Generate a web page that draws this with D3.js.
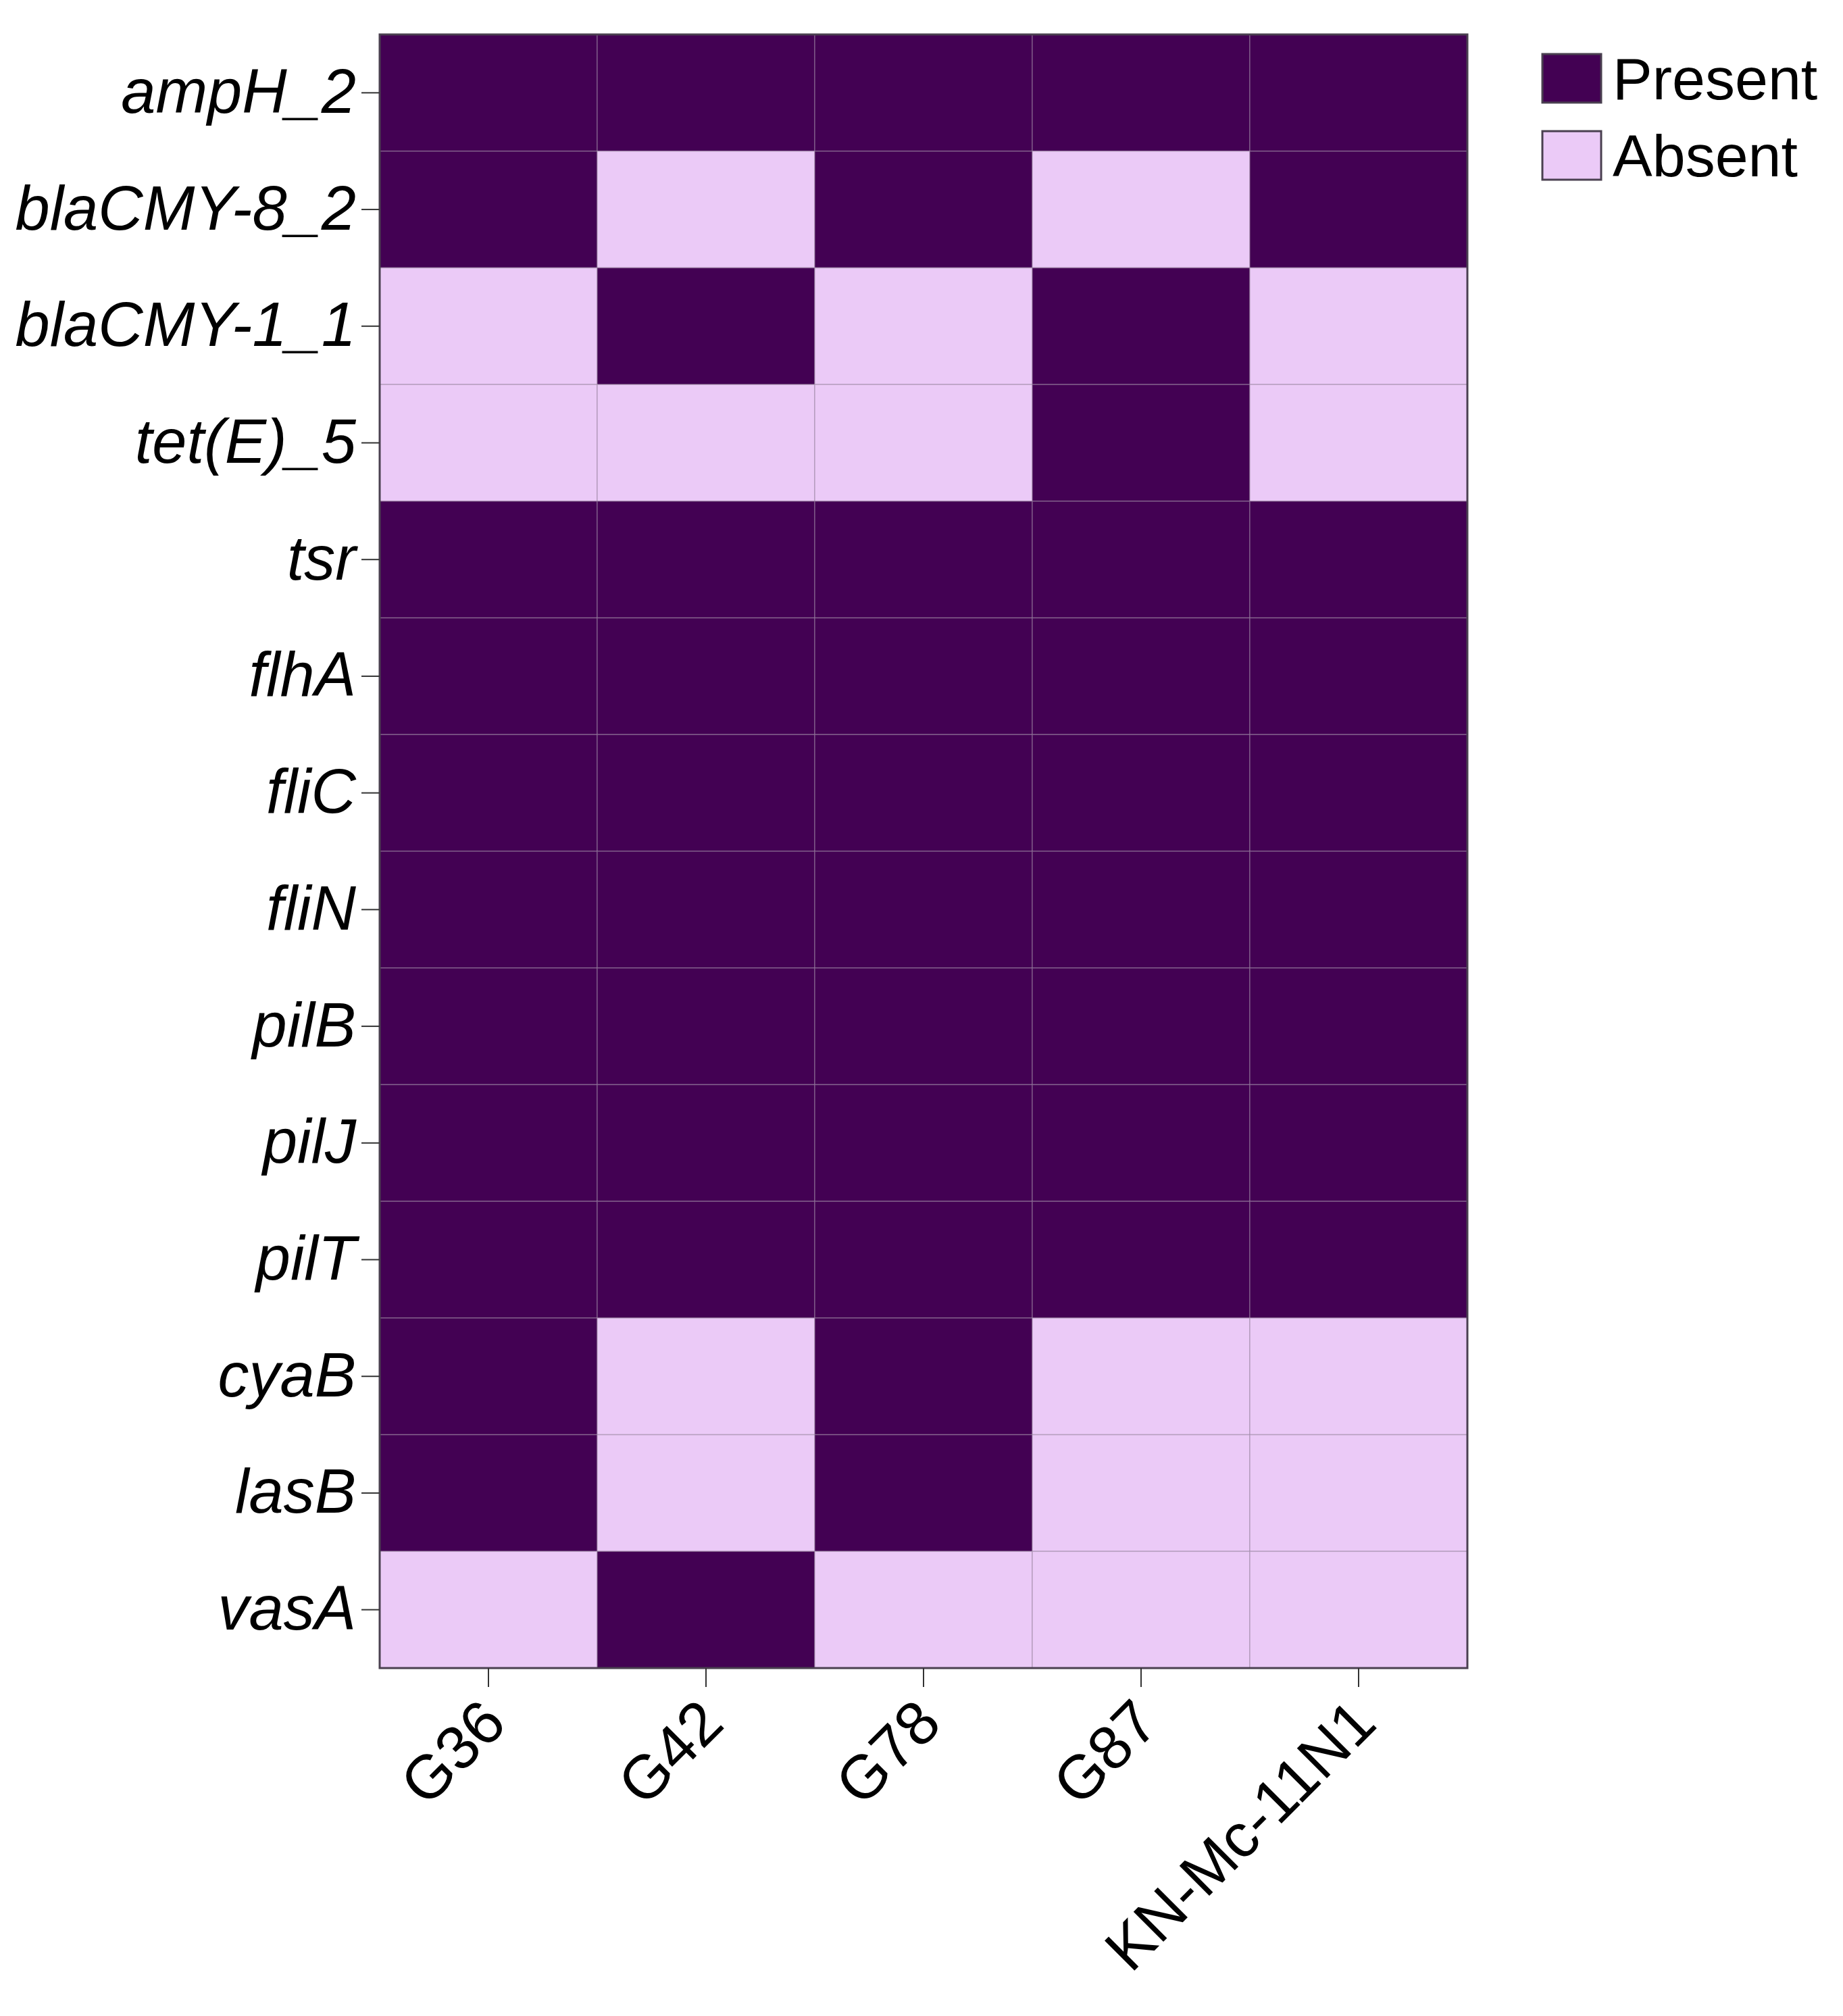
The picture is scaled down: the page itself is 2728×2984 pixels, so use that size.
<!DOCTYPE html>
<html><head><meta charset="utf-8">
<script src="https://cdn.jsdelivr.net/npm/d3@7"></script>
<style>html,body{margin:0;padding:0;background:#fff;}svg{display:block;font-family:"Liberation Sans",Arial,sans-serif;}</style>
</head><body>
<script>
const genes = ["ampH_2","blaCMY-8_2","blaCMY-1_1","tet(E)_5","tsr","flhA","fliC","fliN","pilB","pilJ","pilT","cyaB","lasB","vasA"];
const strains = ["G36","G42","G78","G87","KN-Mc-11N1"];
// 1 = Present, 0 = Absent ; one row per gene, columns in strain order
const presence = [
  [1,1,1,1,1],
  [1,0,1,0,1],
  [0,1,0,1,0],
  [0,0,0,1,0],
  [1,1,1,1,1],
  [1,1,1,1,1],
  [1,1,1,1,1],
  [1,1,1,1,1],
  [1,1,1,1,1],
  [1,1,1,1,1],
  [1,1,1,1,1],
  [1,0,1,0,0],
  [1,0,1,0,0],
  [0,1,0,0,0]
];
const legendLabels = ["Present","Absent"];
const legendValues = [1,0];

const W = 2728, H = 2984;
const m = {left:562, right:2172, top:51, bottom:2469};
const svg = d3.select("body").append("svg").attr("width",W).attr("height",H);

const x = d3.scaleBand().domain(strains).range([m.left,m.right]);
const y = d3.scaleBand().domain(genes).range([m.top,m.bottom]);
const color = d3.scaleOrdinal().domain([1,0]).range(["#430153","#ebcaf7"]);

const cells = [];
genes.forEach((g,i)=>strains.forEach((s,j)=>cells.push({g,s,v:presence[i][j]})));

svg.append("g").selectAll("rect").data(cells).join("rect")
  .attr("x",d=>x(d.s)).attr("y",d=>y(d.g))
  .attr("width",x.bandwidth()).attr("height",y.bandwidth())
  .attr("fill",d=>color(d.v))
  .attr("stroke","#9a86a3").attr("stroke-opacity",0.55).attr("stroke-width",1.5);

svg.append("rect").attr("x",m.left).attr("y",m.top)
  .attr("width",m.right-m.left).attr("height",m.bottom-m.top)
  .attr("fill","none").attr("stroke","#4a4050").attr("stroke-width",3);

// y axis
const yAxis = svg.append("g").attr("transform",`translate(${m.left},0)`)
  .call(d3.axisLeft(y).tickSize(27).tickPadding(8));
yAxis.select(".domain").remove();
yAxis.selectAll(".tick line").attr("stroke","#333").attr("stroke-width",2);
yAxis.selectAll(".tick text").attr("font-size",92).attr("font-style","italic")
  .attr("fill","#000").attr("font-family","'Liberation Sans',Arial,sans-serif");

// x axis
const xAxis = svg.append("g").attr("transform",`translate(0,${m.bottom})`)
  .call(d3.axisBottom(x).tickSize(28).tickPadding(8));
xAxis.select(".domain").remove();
xAxis.selectAll(".tick line").attr("stroke","#333").attr("stroke-width",2);
xAxis.selectAll(".tick text").attr("font-size",91).attr("fill","#000")
  .attr("font-family","'Liberation Sans',Arial,sans-serif")
  .attr("text-anchor","end").attr("dy",null).attr("y",null)
  .attr("transform","translate(30,86) rotate(-45)");

// legend
const lg = svg.append("g");
const ly = d3.scaleBand().domain(legendLabels).range([80,266]).paddingInner(0.37);
legendLabels.forEach((lab,i)=>{
  lg.append("rect").attr("x",2283).attr("y",ly(lab)).attr("width",87).attr("height",ly.bandwidth())
    .attr("fill",color(legendValues[i])).attr("stroke","#4a4050").attr("stroke-width",3);
  lg.append("text").attr("x",2387).attr("y",ly(lab)+ly.bandwidth()/2).attr("dy","0.35em")
    .attr("font-size",88).attr("fill","#000").text(lab);
});
</script>
</body></html>
